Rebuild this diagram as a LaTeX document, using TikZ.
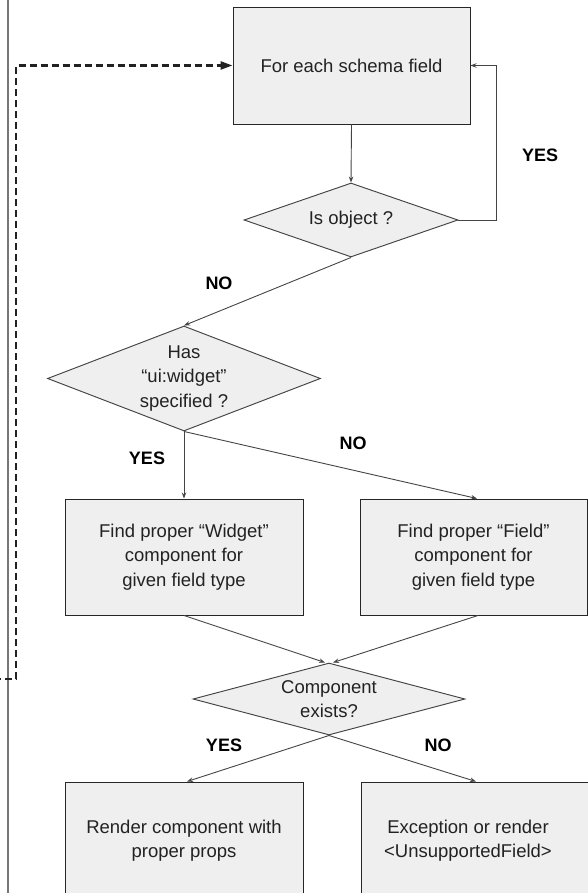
\documentclass[tikz,border=0pt]{standalone}
\usepackage{fontspec}
\setmainfont{Liberation Sans}
\usetikzlibrary{shapes.geometric,arrows.meta}
\definecolor{boxfill}{HTML}{EFEFEF}
\definecolor{txt}{HTML}{222222}
\definecolor{linec}{HTML}{444444}
\definecolor{edgec}{HTML}{777777}
\begin{document}
\begin{tikzpicture}[x=1pt,y=-1pt,
  every node/.style={font=\fontsize{18.5}{24.5}\selectfont, text=txt},
  procbox/.style={draw=black!85, line width=0.95pt, fill=boxfill, inner sep=0pt},
  decision/.style={diamond, draw=linec, line width=0.95pt, fill=boxfill, inner sep=0pt},
  conn/.style={draw=linec, line width=0.9pt, -{Stealth[length=6pt,width=4.5pt]}},
  dashline/.style={draw=txt, line width=2.3pt, dash pattern=on 7pt off 4pt, -{Triangle[length=12pt,width=8pt]}},
  lbl/.style={font=\fontsize{18}{22}\selectfont\bfseries, text=black}]
\useasboundingbox (0,0) rectangle (587,893);
% left frame line
\draw[edgec, line width=1.3pt] (8,-2) -- (8,895);
% nodes
\node[procbox, minimum width=237pt, minimum height=117pt] (top) at (351.5,65.5) {For each schema field};
\node[decision, minimum width=214pt, minimum height=74pt, label={center:Is object ?}] (isobj) at (351,220) {};
\node[decision, minimum width=273pt, minimum height=105pt,
      label={[align=center]center:Has\\“ui:widget”\\specified ?}] (has) at (184,378.5) {};
\node[procbox, minimum width=238pt, minimum height=116pt, align=center] (widget) at (184,557)
  {Find proper “Widget”\\component for\\given field type};
\node[procbox, minimum width=227pt, minimum height=116pt, align=center] (field) at (473.5,557)
  {Find proper “Field”\\component for\\given field type};
\node[decision, minimum width=272pt, minimum height=72pt,
      label={[align=center]center:Component\\exists?}] (comp) at (329,699) {};
\node[procbox, minimum width=238pt, minimum height=117pt, align=center] (render) at (184,840.5)
  {Render component with\\proper props};
\node[procbox, minimum width=234pt, minimum height=117pt,
      label={[align=center,xshift=-10pt]center:Exception or render\\<UnsupportedField>}] (exc) at (478,840.5) {};
% labels
\node[lbl] (yes1) at (540,155) {YES};
\node[lbl] (no1) at (219,283) {NO};
\node[lbl] (yes2) at (147,458) {YES};
\node[lbl] (no2) at (353,443) {NO};
\node[lbl] (yes3) at (224,745) {YES};
\node[lbl] (no3) at (438,745) {NO};
% connectors
\draw[conn] (top.south) -- (isobj.north);
\draw[conn] (isobj.east) -- ++(38,0) |- (top.east);
\draw[conn] (isobj.south) -- (has.north);
\draw[conn] (has.south) -- (widget.north);
\draw[conn] (has.south) -- ([xshift=3.5pt]field.north);
\draw[conn] (widget.south) -- ([xshift=-4pt]comp.north);
\draw[conn] ([xshift=4.5pt]field.south) -- ([xshift=4pt]comp.north);
\draw[conn] (comp.south) -- ([xshift=3pt]render.north);
\draw[conn] (comp.south) -- ([xshift=-2pt]exc.north);
% dashed loop-back
\coordinate (dstart) at (-6,679);
\coordinate (dcorner) at (16,679);
\draw[dashline] (dstart) -- (dcorner) |- (top.west);
\end{tikzpicture}
\end{document}
